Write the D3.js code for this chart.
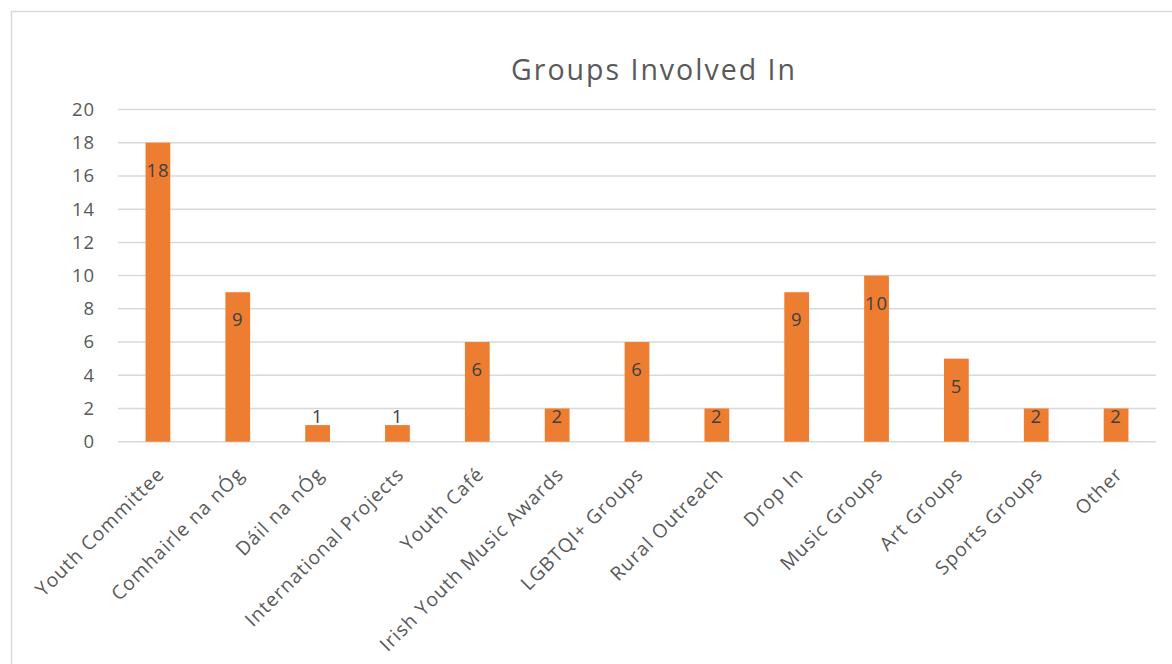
<!DOCTYPE html>
<html>
<head>
<meta charset="utf-8">
<script src="https://cdn.jsdelivr.net/npm/d3@7"></script>
<style>
  html, body { margin: 0; padding: 0; background: #fff; }
  svg { display: block; }
  text { font-family: "Open Sans", "Noto Sans", sans-serif; }
</style>
</head>
<body>
<svg id="chart" width="1172" height="664"></svg>
<script>
// Survey responses: groups the respondents are involved in
const categories = [
  "Youth Committee", "Comhairle na nÓg", "Dáil na nÓg", "International Projects",
  "Youth Café", "Irish Youth Music Awards", "LGBTQI+ Groups", "Rural Outreach",
  "Drop In", "Music Groups", "Art Groups", "Sports Groups", "Other"
];
const counts = [18, 9, 1, 1, 6, 2, 6, 2, 9, 10, 5, 2, 2];
const yTicks = [0, 2, 4, 6, 8, 10, 12, 14, 16, 18, 20];
const chartTitle = "Groups Involved In";

const svg = d3.select("#chart");
const W = 1172, H = 664;
const plot = { left: 118, right: 1156, top: 109.5, bottom: 441.7 };

// Chart frame
svg.append("rect")
  .attr("x", 11.5).attr("y", 11.5)
  .attr("width", W + 20).attr("height", H + 20)
  .attr("fill", "none").attr("stroke", "#d9d9d9").attr("stroke-width", 1.5);

const x = d3.scaleBand()
  .domain(categories)
  .range([plot.left, plot.right])
  .paddingInner(0.69).paddingOuter(0.345);

const y = d3.scaleLinear().domain([0, 20]).range([plot.bottom, plot.top]);

// Horizontal gridlines
svg.append("g")
  .selectAll("line")
  .data(yTicks)
  .join("line")
  .attr("x1", plot.left).attr("x2", plot.right)
  .attr("y1", d => y(d)).attr("y2", d => y(d))
  .attr("stroke", "#d9d9d9").attr("stroke-width", 1.5);

// Y axis labels
const yAxis = svg.append("g")
  .attr("transform", `translate(${plot.left - 23},0)`)
  .call(d3.axisLeft(y).tickValues(yTicks).tickSize(0).tickPadding(0));
yAxis.select(".domain").remove();
yAxis.selectAll("text")
  .attr("fill", "#595959")
  .style("font-size", "18.5px")
  .style("letter-spacing", "0.05em");

// Bars
svg.append("g")
  .selectAll("rect")
  .data(counts)
  .join("rect")
  .attr("x", (d, i) => x(categories[i]))
  .attr("y", d => y(d))
  .attr("width", x.bandwidth())
  .attr("height", d => y(0) - y(d))
  .attr("fill", "#ed7d31");

// Value labels near the top of each bar
svg.append("g")
  .selectAll("text")
  .data(counts)
  .join("text")
  .attr("x", (d, i) => x(categories[i]) + x.bandwidth() / 2)
  .attr("y", d => Math.min(y(d) + 27.5, 417))
  .attr("dy", "0.35em")
  .attr("text-anchor", "middle")
  .attr("fill", "#404040")
  .style("font-size", "18.5px")
  .style("letter-spacing", "0.05em")
  .text(d => d);

// Category labels, rotated
const xAxis = svg.append("g")
  .attr("transform", `translate(0,${plot.bottom})`)
  .call(d3.axisBottom(x).tickSize(0).tickPadding(0));
xAxis.select(".domain").remove();
xAxis.selectAll("text")
  .attr("y", 0)
  .attr("dy", "0.35em")
  .attr("text-anchor", "end")
  .attr("transform", "translate(3,29) rotate(-45)")
  .attr("fill", "#595959")
  .style("font-size", "19.2px")
  .style("letter-spacing", "0.055em");

// Title
svg.append("text")
  .attr("x", 654).attr("y", 70)
  .attr("dy", "0.35em")
  .attr("text-anchor", "middle")
  .attr("fill", "#595959")
  .style("font-size", "28.5px")
  .style("letter-spacing", "0.07em")
  .text(chartTitle);
</script>
</body>
</html>
